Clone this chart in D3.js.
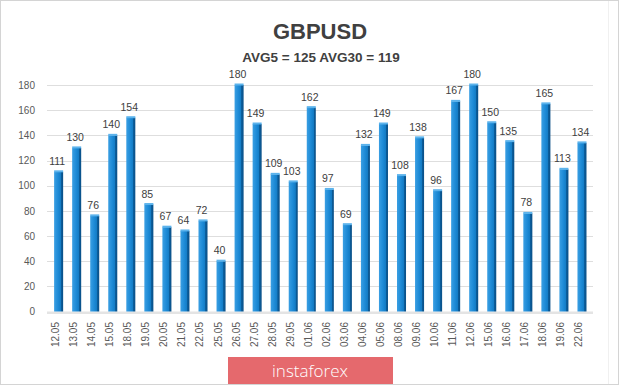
<!DOCTYPE html>
<html><head><meta charset="utf-8">
<script src="https://cdn.jsdelivr.net/npm/d3@7/dist/d3.min.js"></script>
<style>body{margin:0;background:#fff;}svg{display:block;}</style>
</head><body>
<svg id="c" width="620" height="386"></svg>
<script>
const categories = ["12.05","13.05","14.05","15.05","18.05","19.05","20.05","21.05","22.05","25.05","26.05","27.05","28.05","29.05","01.06","02.06","03.06","04.06","05.06","08.06","09.06","10.06","11.06","12.06","15.06","16.06","17.06","18.06","19.06","22.06"];
const values = [111,130,76,140,154,85,67,64,72,40,180,149,109,103,162,97,69,132,149,108,138,96,167,180,150,135,78,165,113,134];
const yTicks = [0,20,40,60,80,100,120,140,160,180];
const title = "GBPUSD";
const subtitle = "AVG5 = 125 AVG30 = 119";
const logoText = "instaforex";

const svg = d3.select("#c");
const defs = svg.append("defs");
const g1 = defs.append("linearGradient").attr("id","bar").attr("x1","0").attr("x2","1").attr("y1","0").attr("y2","0");
g1.append("stop").attr("offset","0").attr("stop-color","#3a9fe3");
g1.append("stop").attr("offset","0.45").attr("stop-color","#1d8ad6");
g1.append("stop").attr("offset","0.75").attr("stop-color","#137bc4");
g1.append("stop").attr("offset","0.76").attr("stop-color","#0b5f9e");
g1.append("stop").attr("offset","1").attr("stop-color","#0a4f86");

// frame
svg.append("rect").attr("x",0.5).attr("y",0.5).attr("width",618).attr("height",384)
  .attr("fill","#fff").attr("stroke","#d4d4d4");
svg.append("line").attr("x1",608.5).attr("x2",608.5).attr("y1",1).attr("y2",384).attr("stroke","#f0f0f0");

const x = d3.scaleBand().domain(categories).range([49.6, 591]).paddingInner(0.5).paddingOuter(0.25);
const y = d3.scaleLinear().domain([0,180]).range([311.5, 85]);

// gridlines
svg.append("g").selectAll("line").data(yTicks).join("line")
  .attr("x1",47).attr("x2",593)
  .attr("y1",d=>Math.round(y(d))+0.5).attr("y2",d=>Math.round(y(d))+0.5)
  .attr("stroke",d=>d===0?"#cfcfcf":"#dedede").attr("stroke-width",1);
// floor
svg.append("rect").attr("x",47).attr("y",y(0)).attr("width",546).attr("height",2.5).attr("fill","#e4e4e4");

// y axis labels
const yAxis = d3.axisLeft(y).tickValues(yTicks).tickSize(0).tickPadding(0);
const ya = svg.append("g").attr("transform","translate(35,0)").call(yAxis);
ya.select(".domain").remove();
ya.selectAll("text").attr("font-family","Liberation Sans, Arial, sans-serif").attr("font-size",10).attr("fill","#595959");

// bars
const bw = x.bandwidth();
const bars = svg.append("g");
bars.selectAll("rect.b").data(values).join("rect").attr("class","b")
  .attr("x",(d,i)=>x(categories[i])).attr("y",d=>y(d))
  .attr("width",bw).attr("height",d=>y(0)-y(d))
  .attr("fill","url(#bar)");
bars.selectAll("rect.t").data(values).join("rect").attr("class","t")
  .attr("x",(d,i)=>x(categories[i])).attr("y",d=>y(d)-1.5)
  .attr("width",bw).attr("height",2)
  .attr("fill","#5cb3ec");

// value labels
svg.append("g").selectAll("text").data(values).join("text")
  .attr("x",(d,i)=>x(categories[i])+bw/2-1.5).attr("y",d=>y(d)-7)
  .attr("text-anchor","middle")
  .attr("font-family","Liberation Sans, Arial, sans-serif").attr("font-size",10.5)
  .attr("fill","#404040").text(d=>d);

// x axis labels
const xAxis = d3.axisBottom(x).tickSize(0).tickPadding(0);
const xa = svg.append("g").attr("transform","translate(-3,322)").call(xAxis);
xa.select(".domain").remove();
xa.selectAll("text")
  .attr("font-family","Liberation Sans, Arial, sans-serif").attr("font-size",10).attr("fill","#595959")
  .attr("text-anchor","end").attr("transform","rotate(-90)")
  .attr("x",0).attr("y",0).attr("dy","0.35em");

// titles
svg.append("text").attr("x",320).attr("y",38.5).attr("text-anchor","middle")
  .attr("font-family","Liberation Sans, Arial, sans-serif").attr("font-weight","bold").attr("font-size",22)
  .attr("fill","#404040").text(title);
svg.append("text").attr("x",321).attr("y",62).attr("text-anchor","middle")
  .attr("font-family","Liberation Sans, Arial, sans-serif").attr("font-weight","bold").attr("font-size",13.5)
  .attr("fill","#404040").text(subtitle);

// logo
svg.append("rect").attr("x",228).attr("y",357).attr("width",165).attr("height",27).attr("fill","#e5696d");
svg.append("text").attr("x",310).attr("y",377).attr("text-anchor","middle")
  .attr("font-family","Open Sans, sans-serif").attr("font-weight",300).attr("font-size",17)
  .attr("fill","#fff").text(logoText);
</script>
</body></html>
